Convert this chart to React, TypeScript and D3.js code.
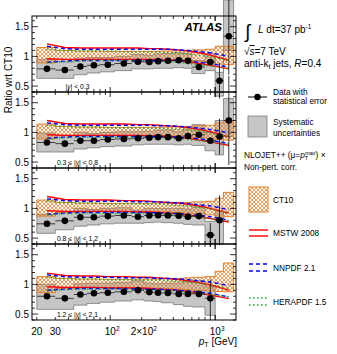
import React from 'react'
import * as d3 from 'd3'

// pT binning (GeV) and the mean pT of each bin
const ptEdges = [20, 30, 45, 60, 80, 110, 160, 210, 260, 310, 400, 500, 600, 800, 1000, 1200, 1500]
const ptCenters = [25, 37, 52, 70, 95, 135, 184, 236, 286, 355, 450, 550, 700, 900, 1100, 1350]

const rapLabels = [['', '|y| < 0.3'], ['0.3 ≤ ', '|y| < 0.8'], ['0.8 ≤ ', '|y| < 1.2'], ['1.2 ≤ ', '|y| < 2.1']]

// |y| < 0.3
const data1 = [0.79, 0.77, 0.83, 0.85, 0.86, 0.88, 0.91, 0.905, 0.92, 0.925, 0.935, 0.925, 0.82, 0.905, 0.59, 1.34]
const stat1 = [0.005, 0.005, 0.005, 0.005, 0.005, 0.005, 0.005, 0.006, 0.007, 0.008, 0.01, 0.015, 0.02, 0.04, 0.3, 0.65]
const sysLo1 = [0.63, 0.63, 0.69, 0.72, 0.74, 0.76, 0.79, 0.79, 0.8, 0.8, 0.81, 0.8, 0.71, 0.76, 0.33, 1.1]
const sysHi1 = [0.95, 0.91, 0.97, 0.98, 0.98, 1.0, 1.03, 1.02, 1.04, 1.05, 1.06, 1.05, 0.93, 1.05, 0.73, 1.95]
const ct10Lo1 = [0.89, 0.94, 0.945, 0.95, 0.95, 0.95, 0.95, 0.95, 0.95, 0.945, 0.94, 0.93, 0.91, 0.9, 0.87, 0.86]
const ct10Hi1 = [1.15, 1.1, 1.09, 1.09, 1.085, 1.085, 1.085, 1.085, 1.085, 1.09, 1.095, 1.1, 1.11, 1.12, 1.17, 1.17]
const mstwLo1 = [0.96, 0.95, 0.95, 0.95, 0.95, 0.95, 0.95, 0.95, 0.94, 0.94, 0.93, 0.91, 0.88, 0.85, 0.82, 0.79]
const mstwHi1 = [1.21, 1.15, 1.14, 1.14, 1.14, 1.14, 1.14, 1.13, 1.13, 1.12, 1.11, 1.09, 1.06, 1.02, 0.98, 0.93]
const nnLo1 = [0.9, 0.92, 0.93, 0.93, 0.93, 0.93, 0.93, 0.93, 0.93, 0.93, 0.93, 0.92, 0.9, 0.88, 0.85, 0.82]
const nnHi1 = [1.17, 1.13, 1.12, 1.12, 1.12, 1.12, 1.12, 1.12, 1.12, 1.12, 1.11, 1.1, 1.08, 1.06, 1.03, 1.0]
const heraLo1 = [0.89, 0.91, 0.92, 0.93, 0.93, 0.93, 0.93, 0.92, 0.92, 0.91, 0.9, 0.88, 0.86, 0.84, 0.82, 0.8]
const heraHi1 = [1.12, 1.1, 1.09, 1.09, 1.09, 1.08, 1.08, 1.08, 1.07, 1.06, 1.05, 1.04, 1.02, 0.99, 0.96, 0.93]

// 0.3 <= |y| < 0.8
const data2 = [0.83, 0.81, 0.86, 0.86, 0.88, 0.89, 0.9, 0.91, 0.92, 0.92, 0.9, 0.94, 0.96, 0.86, 0.93, 1.2]
const stat2 = [0.005, 0.005, 0.005, 0.005, 0.005, 0.005, 0.005, 0.006, 0.007, 0.008, 0.01, 0.015, 0.02, 0.03, 0.3, 0.75]
const sysLo2 = [0.67, 0.67, 0.72, 0.74, 0.76, 0.77, 0.79, 0.8, 0.8, 0.8, 0.79, 0.8, 0.78, 0.69, 0.62, 0.93]
const sysHi2 = [0.99, 0.95, 1.0, 0.98, 1.0, 1.01, 1.01, 1.02, 1.04, 1.04, 1.01, 1.08, 1.13, 1.0, 1.2, 1.57]
const ct10Lo2 = [0.89, 0.94, 0.945, 0.95, 0.95, 0.95, 0.95, 0.95, 0.95, 0.945, 0.94, 0.93, 0.91, 0.9, 0.88, 0.87]
const ct10Hi2 = [1.14, 1.1, 1.09, 1.09, 1.085, 1.085, 1.085, 1.085, 1.085, 1.09, 1.095, 1.1, 1.11, 1.12, 1.16, 1.18]
const mstwLo2 = [0.96, 0.95, 0.95, 0.95, 0.95, 0.95, 0.95, 0.94, 0.94, 0.93, 0.92, 0.9, 0.87, 0.84, 0.81, 0.78]
const mstwHi2 = [1.2, 1.15, 1.14, 1.14, 1.14, 1.14, 1.13, 1.13, 1.12, 1.11, 1.1, 1.08, 1.05, 1.01, 0.97, 0.92]
const nnLo2 = [0.9, 0.92, 0.93, 0.93, 0.93, 0.93, 0.93, 0.93, 0.93, 0.93, 0.92, 0.91, 0.89, 0.87, 0.84, 0.81]
const nnHi2 = [1.16, 1.13, 1.12, 1.12, 1.12, 1.12, 1.12, 1.12, 1.11, 1.11, 1.1, 1.09, 1.07, 1.05, 1.02, 0.99]
const heraLo2 = [0.89, 0.91, 0.92, 0.92, 0.92, 0.92, 0.92, 0.92, 0.91, 0.91, 0.9, 0.88, 0.86, 0.84, 0.82, 0.8]
const heraHi2 = [1.12, 1.1, 1.09, 1.09, 1.08, 1.08, 1.08, 1.07, 1.07, 1.06, 1.05, 1.04, 1.02, 0.99, 0.96, 0.93]

// 0.8 <= |y| < 1.2
const data3 = [0.74, 0.79, 0.85, 0.85, 0.87, 0.88, 0.86, 0.88, 0.885, 0.88, 0.875, 0.86, 0.87, 0.55, 0.8]
const stat3 = [0.005, 0.005, 0.005, 0.005, 0.005, 0.005, 0.005, 0.006, 0.007, 0.008, 0.01, 0.015, 0.025, 0.2, 0.42]
const sysLo3 = [0.58, 0.64, 0.7, 0.72, 0.74, 0.75, 0.75, 0.76, 0.77, 0.76, 0.75, 0.73, 0.72, 0.4, 0.4]
const sysHi3 = [0.9, 0.94, 1.0, 0.98, 1.0, 1.01, 0.97, 1.0, 1.0, 1.0, 1.0, 0.99, 1.02, 0.78, 0.95]
const ct10Lo3 = [0.87, 0.93, 0.94, 0.945, 0.95, 0.95, 0.95, 0.95, 0.945, 0.94, 0.93, 0.92, 0.91, 0.89, 0.87, 0.86]
const ct10Hi3 = [1.14, 1.1, 1.09, 1.09, 1.085, 1.085, 1.085, 1.085, 1.09, 1.09, 1.1, 1.1, 1.11, 1.12, 1.17, 1.27]
const mstwLo3 = [0.96, 0.95, 0.95, 0.95, 0.95, 0.95, 0.94, 0.94, 0.93, 0.92, 0.91, 0.89, 0.86, 0.83, 0.8, 0.77]
const mstwHi3 = [1.2, 1.15, 1.14, 1.14, 1.14, 1.13, 1.13, 1.12, 1.11, 1.1, 1.09, 1.07, 1.04, 1.0, 0.96, 0.92]
const nnLo3 = [0.9, 0.92, 0.93, 0.93, 0.93, 0.93, 0.93, 0.93, 0.92, 0.92, 0.91, 0.9, 0.88, 0.86, 0.83, 0.8]
const nnHi3 = [1.16, 1.13, 1.12, 1.12, 1.12, 1.12, 1.11, 1.11, 1.11, 1.1, 1.09, 1.08, 1.06, 1.04, 1.01, 0.98]
const heraLo3 = [0.89, 0.91, 0.92, 0.92, 0.92, 0.92, 0.92, 0.91, 0.91, 0.9, 0.89, 0.87, 0.85, 0.83, 0.81, 0.79]
const heraHi3 = [1.12, 1.1, 1.09, 1.09, 1.08, 1.08, 1.08, 1.07, 1.07, 1.06, 1.05, 1.04, 1.02, 0.99, 0.96, 0.93]

// 1.2 <= |y| < 2.1
const data4 = [0.8, 0.765, 0.83, 0.85, 0.86, 0.875, 0.9, 0.87, 0.86, 0.855, 0.84, 0.84, 0.84, 0.765]
const stat4 = [0.005, 0.005, 0.005, 0.005, 0.005, 0.005, 0.006, 0.007, 0.008, 0.01, 0.012, 0.02, 0.04, 0.32]
const sysLo4 = [0.58, 0.58, 0.65, 0.68, 0.7, 0.72, 0.74, 0.72, 0.71, 0.69, 0.66, 0.63, 0.62, 0.48]
const sysHi4 = [1.0, 0.95, 1.01, 1.02, 1.02, 1.03, 1.06, 1.02, 1.01, 1.02, 1.02, 1.05, 1.06, 0.96]
const ct10Lo4 = [0.86, 0.93, 0.94, 0.945, 0.95, 0.95, 0.945, 0.94, 0.935, 0.93, 0.92, 0.91, 0.9, 0.89, 0.88, 0.875]
const ct10Hi4 = [1.13, 1.1, 1.09, 1.09, 1.085, 1.085, 1.09, 1.09, 1.09, 1.1, 1.1, 1.11, 1.12, 1.13, 1.22, 1.36]
const mstwLo4 = [0.96, 0.95, 0.95, 0.95, 0.94, 0.94, 0.94, 0.93, 0.92, 0.91, 0.9, 0.88, 0.85, 0.82, 0.79, 0.76]
const mstwHi4 = [1.19, 1.15, 1.14, 1.14, 1.13, 1.13, 1.12, 1.12, 1.11, 1.1, 1.08, 1.06, 1.03, 0.99, 0.95, 0.9]
const nnLo4 = [0.9, 0.92, 0.93, 0.93, 0.93, 0.93, 0.92, 0.92, 0.92, 0.91, 0.9, 0.89, 0.87, 0.85, 0.82, 0.79]
const nnHi4 = [1.16, 1.13, 1.12, 1.12, 1.12, 1.11, 1.11, 1.11, 1.1, 1.1, 1.09, 1.08, 1.06, 1.04, 1.01, 0.98]
const heraLo4 = [0.89, 0.91, 0.92, 0.92, 0.92, 0.92, 0.91, 0.91, 0.9, 0.9, 0.89, 0.87, 0.85, 0.83, 0.81, 0.79]
const heraHi4 = [1.12, 1.1, 1.09, 1.09, 1.08, 1.08, 1.08, 1.07, 1.07, 1.06, 1.05, 1.04, 1.02, 0.99, 0.96, 0.93]

const panels = [
  { data: data1, stat: stat1, sysLo: sysLo1, sysHi: sysHi1, ctLo: ct10Lo1, ctHi: ct10Hi1, mLo: mstwLo1, mHi: mstwHi1, nLo: nnLo1, nHi: nnHi1, hLo: heraLo1, hHi: heraHi1 },
  { data: data2, stat: stat2, sysLo: sysLo2, sysHi: sysHi2, ctLo: ct10Lo2, ctHi: ct10Hi2, mLo: mstwLo2, mHi: mstwHi2, nLo: nnLo2, nHi: nnHi2, hLo: heraLo2, hHi: heraHi2 },
  { data: data3, stat: stat3, sysLo: sysLo3, sysHi: sysHi3, ctLo: ct10Lo3, ctHi: ct10Hi3, mLo: mstwLo3, mHi: mstwHi3, nLo: nnLo3, nHi: nnHi3, hLo: heraLo3, hHi: heraHi3 },
  { data: data4, stat: stat4, sysLo: sysLo4, sysHi: sysHi4, ctLo: ct10Lo4, ctHi: ct10Hi4, mLo: mstwLo4, mHi: mstwHi4, nLo: nnLo4, nHi: nnHi4, hLo: heraLo4, hHi: heraHi4 },
]

const W = 337, H = 354
const X0 = 32, X1 = 236, TOP = 16, PH = 76
const FONT = "'Liberation Sans', Arial, Helvetica, sans-serif"
const ORANGE = '#e0802c'
const GRAY = '#c6c6c6'
const GRAYLINE = '#7a7a7a'

const x = d3.scaleLog().domain([18, 1580]).range([X0, X1])

const minorX = [20, 30, 40, 50, 60, 70, 80, 90, 200, 300, 400, 500, 600, 700, 800, 900, 1000]
const majorX = [100, 1000]

function stepArea(lo, hi, y) {
  const pts = lo.flatMap((l, k) => [
    [x(ptEdges[k]), y(l), y(hi[k])],
    [x(ptEdges[k + 1]), y(l), y(hi[k])],
  ])
  return d3.area().x(d => d[0]).y0(d => d[1]).y1(d => d[2])(pts)
}

function Panel({ p, i }) {
  const top = TOP + PH * i
  const y = d3.scaleLinear().domain([0.4, 1.68]).range([top + PH, top])
  const line = arr => d3.line().x((d, k) => x(ptCenters[k])).y(d => y(d))(arr)
  const yMinor = d3.range(4, 17).map(v => v / 10)
  const [pre, rap] = rapLabels[i]
  return (
    <g>
      <path d={stepArea(p.sysLo, p.sysHi, y)} fill={GRAY} stroke={GRAYLINE} strokeWidth={0.8} />
      <path d={stepArea(p.ctLo, p.ctHi, y)} fill="url(#hatch)" stroke={ORANGE} strokeWidth={1} />
      {[p.mLo, p.mHi].map((a, k) => <path key={'m' + k} d={line(a)} fill="none" stroke="#ff0000" strokeWidth={1.4} />)}
      {[p.nLo, p.nHi].map((a, k) => <path key={'n' + k} d={line(a)} fill="none" stroke="#0000ff" strokeWidth={1.5} strokeDasharray="4,3" />)}
      {[p.hLo, p.hHi].map((a, k) => <path key={'h' + k} d={line(a)} fill="none" stroke="#22aa22" strokeWidth={1.5} strokeDasharray="1.5,2.5" />)}
      {p.data.map((v, k) => (
        <g key={k}>
          <line x1={x(ptEdges[k])} x2={x(ptEdges[k + 1])} y1={y(v)} y2={y(v)} stroke="#000" strokeWidth={0.7} />
          <line x1={x(ptCenters[k])} x2={x(ptCenters[k])} y1={y(v - p.stat[k])} y2={y(v + p.stat[k])} stroke="#000" strokeWidth={0.8} />
          <circle cx={x(ptCenters[k])} cy={y(v)} r={3.3} fill="#000" />
        </g>
      ))}
      <rect x={X0} y={top} width={X1 - X0} height={PH} fill="none" stroke="#000" strokeWidth={1} />
      {yMinor.map(v => {
        const major = Math.abs(v * 2 - Math.round(v * 2)) < 1e-6
        const len = major ? 6 : 3
        return (
          <g key={v}>
            <line x1={X0} x2={X0 + len} y1={y(v)} y2={y(v)} stroke="#000" strokeWidth={0.8} />
            <line x1={X1} x2={X1 - len} y1={y(v)} y2={y(v)} stroke="#000" strokeWidth={0.8} />
          </g>
        )
      })}
      {minorX.concat(majorX).map((v, k) => {
        const len = majorX.includes(v) ? 5 : 3
        return (
          <g key={'x' + k}>
            <line x1={x(v)} x2={x(v)} y1={top + PH} y2={top + PH - len} stroke="#000" strokeWidth={0.8} />
            <line x1={x(v)} x2={x(v)} y1={top} y2={top + len} stroke="#000" strokeWidth={0.8} />
          </g>
        )
      })}
      {[0.5, 1, 1.5].map(v => (
        <text key={v} x={29} y={y(v) + 3.6} textAnchor="end" fontSize={10}>{v}</text>
      ))}
      <text x={77.5} y={top + 72.5} textAnchor="middle" fontSize={6.8}>
        {pre}|<tspan fontStyle="italic">y</tspan>{rap.slice(2)}
      </text>
    </g>
  )
}

export default function App() {
  const lx0 = 248, lx1 = 267
  return (
    <svg width={W} height={H} style={{ position: 'absolute', left: 0, top: 0, fontFamily: FONT, background: '#fff' }}>
      <defs>
        <pattern id="hatch" width={4} height={4} patternUnits="userSpaceOnUse">
          <path d="M0,0 L4,4 M4,0 L0,4" stroke={ORANGE} strokeWidth={0.75} />
        </pattern>
      </defs>
      {panels.map((p, i) => <Panel key={i} p={p} i={i} />)}

      <text x={222} y={31} textAnchor="end" fontSize={11.5} fontWeight="bold" fontStyle="italic">ATLAS</text>

      <text transform="translate(12,80) rotate(-90)" textAnchor="middle" fontSize={10}>Ratio wrt CT10</text>

      {/* x tick labels */}
      <g fontSize={10} textAnchor="middle">
        <text x={x(20)} y={335}>20</text>
        <text x={x(30)} y={335}>30</text>
        <text x={x(100) + 2} y={335}>10<tspan fontSize={6.5} dy={-4}>2</tspan></text>
        <text x={x(200) + 2} y={335}>2×10<tspan fontSize={6.5} dy={-4}>2</tspan></text>
        <text x={x(1000) + 2} y={335}>10<tspan fontSize={6.5} dy={-4}>3</tspan></text>
      </g>
      <text x={237} y={345} textAnchor="end" fontSize={10}>
        <tspan fontStyle="italic">p</tspan><tspan fontSize={7} dy={2}>T</tspan><tspan dy={-2}> [GeV]</tspan>
      </text>

      {/* top right info */}
      <text x={245} y={38} fontSize={19} fontWeight="200">∫</text>
      <text x={258} y={33} fontSize={10}>
        <tspan fontStyle="italic">L</tspan> dt=37 pb<tspan fontSize={6.5} dy={-4}>-1</tspan>
      </text>
      <text x={244} y={55} fontSize={10}>
        √<tspan fontStyle="italic" textDecoration="overline">s</tspan>=7 TeV
      </text>
      <text x={244} y={67} fontSize={10}>
        anti-k<tspan fontSize={7} dy={2}>t</tspan><tspan dy={-2}>  jets, </tspan><tspan fontStyle="italic">R</tspan>=0.4
      </text>

      {/* legend */}
      <g fontSize={8.3}>
        <line x1={lx0} x2={lx1} y1={97} y2={97} stroke="#000" strokeWidth={1} />
        <circle cx={(lx0 + lx1) / 2} cy={97} r={3.2} fill="#000" />
        <text x={273} y={95}>Data with</text>
        <text x={273} y={104}>statistical error</text>

        <rect x={lx0} y={116} width={lx1 - lx0} height={21} fill={GRAY} stroke={GRAYLINE} strokeWidth={0.8} />
        <text x={273} y={125}>Systematic</text>
        <text x={273} y={136}>uncertainties</text>

        <text x={244} y={158}>
          NLOJET++ (μ=<tspan fontStyle="italic">p</tspan><tspan fontSize={5.5} dy={2}>T</tspan><tspan fontSize={5.5} dy={-5} dx={-3}>max</tspan><tspan dy={3}>) ×</tspan>
        </text>
        <text x={244} y={170}>Non-pert. corr.</text>

        <rect x={249} y={187} width={19} height={25} fill="url(#hatch)" stroke={ORANGE} strokeWidth={1} />
        <text x={273} y={203}>CT10</text>

        <line x1={249} x2={268} y1={230} y2={230} stroke="#ff0000" strokeWidth={1.4} />
        <line x1={249} x2={268} y1={236} y2={236} stroke="#ff0000" strokeWidth={1.4} />
        <text x={273} y={236}>MSTW 2008</text>

        <line x1={249} x2={268} y1={264} y2={264} stroke="#0000ff" strokeWidth={1.5} strokeDasharray="4,3" />
        <line x1={249} x2={268} y1={271} y2={271} stroke="#0000ff" strokeWidth={1.5} strokeDasharray="4,3" />
        <text x={273} y={271}>NNPDF 2.1</text>

        <line x1={249} x2={268} y1={298} y2={298} stroke="#22aa22" strokeWidth={1.5} strokeDasharray="1.5,2.5" />
        <line x1={249} x2={268} y1={305} y2={305} stroke="#22aa22" strokeWidth={1.5} strokeDasharray="1.5,2.5" />
        <text x={273} y={305}>HERAPDF 1.5</text>
      </g>
    </svg>
  )
}
